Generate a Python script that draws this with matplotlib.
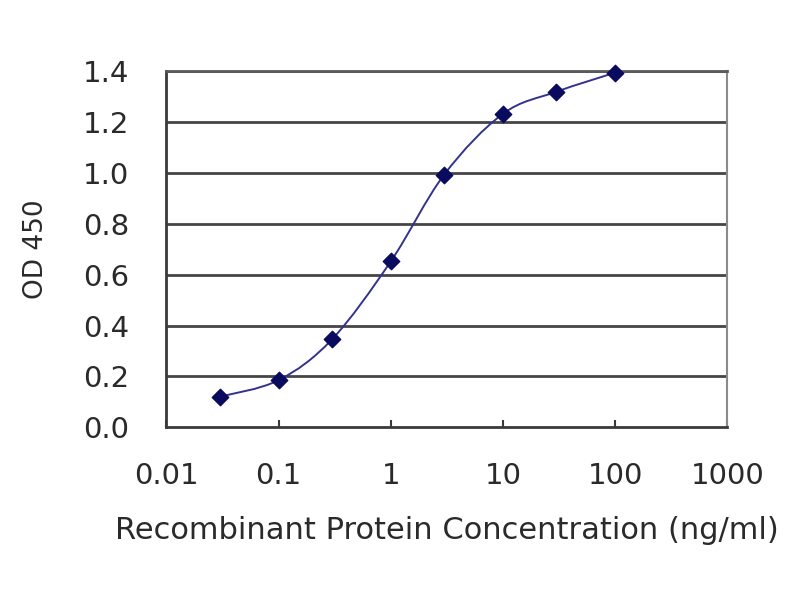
import numpy as np
from matplotlib import pyplot as plt
from matplotlib.path import Path
from matplotlib.patches import PathPatch

conc = [0.03, 0.1, 0.3, 1, 3, 10, 30, 100]
od = [0.12, 0.185, 0.346, 0.652, 0.994, 1.233, 1.32, 1.395]
yticks = [0.0, 0.2, 0.4, 0.6, 0.8, 1.0, 1.2, 1.4]
xticks = [0.01, 0.1, 1, 10, 100, 1000]
xticklabels = ["0.01", "0.1", "1", "10", "100", "1000"]

plt.rcParams['font.family'] = ['DejaVu Sans']
txt = "#2a2a2a"

fig = plt.figure(figsize=(8, 6), dpi=100)
ax = fig.add_axes([0.208, 0.288, 0.701, 0.593])
ax.set_xscale('log')
ax.set_xlim(0.01, 1000)
ax.set_ylim(0, 1.4)

for yv in yticks[1:]:
    ax.axhline(yv, color="#454545", lw=2, zorder=1)

# smoothed line like a spreadsheet chart (bezier through the points in log-x space)
lx = np.log10(conc)
yy = np.array(od)
n = len(lx)
verts = [(conc[0], od[0])]
codes = [Path.MOVETO]
for i in range(n - 1):
    p0 = i - 1 if i > 0 else i
    p3 = i + 2 if i + 2 < n else i + 1
    c1 = (lx[i] + (lx[i + 1] - lx[p0]) / 6, yy[i] + (yy[i + 1] - yy[p0]) / 6)
    c2 = (lx[i + 1] - (lx[p3] - lx[i]) / 6, yy[i + 1] - (yy[p3] - yy[i]) / 6)
    verts += [(10 ** c1[0], c1[1]), (10 ** c2[0], c2[1]), (conc[i + 1], od[i + 1])]
    codes += [Path.CURVE4] * 3
ax.add_patch(PathPatch(Path(verts, codes), fill=False, edgecolor="#33338f", lw=1.4, zorder=3))
ax.scatter(conc, od, marker="D", s=70, color="#0a0a5e", zorder=4, clip_on=False)

for side in ["left", "bottom"]:
    ax.spines[side].set_color("#3a3a3a")
    ax.spines[side].set_linewidth(2)
ax.spines["top"].set_color("#5a5a5a")
ax.spines["top"].set_linewidth(2)
ax.spines["right"].set_color("#8a8a8a")
ax.spines["right"].set_linewidth(1.5)

ax.set_yticks(yticks)
ax.set_yticklabels([f"{v:.1f}" for v in yticks])
ax.set_xticks(xticks)
ax.set_xticklabels(xticklabels)
ax.minorticks_off()
ax.tick_params(axis='y', length=0, pad=27, labelsize=21, labelcolor=txt)
ax.tick_params(axis='x', direction='in', length=5, width=1.5, color="#3a3a3a", pad=25, labelsize=21, labelcolor=txt)

ax.set_xlabel("Recombinant Protein Concentration (ng/ml)", fontsize=22, color=txt, labelpad=19)
ax.set_ylabel("OD 450", fontsize=19, color=txt, labelpad=24)

plt.savefig("out.png", dpi=100)
